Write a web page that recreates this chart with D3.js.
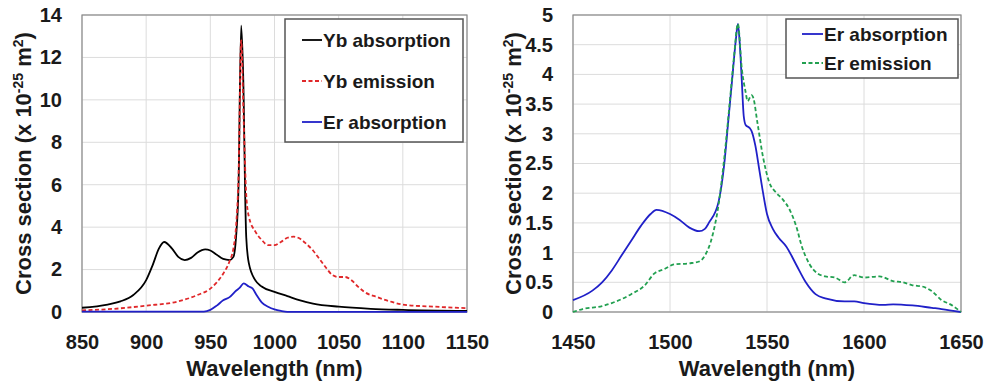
<!DOCTYPE html>
<html lang="en">
<head>
<meta charset="utf-8">
<title>Cross sections</title>
<style>
    body { margin: 0; background: #fff; }
    text { font-family: "Liberation Sans", Arial, sans-serif; font-weight: bold; fill: #1a1a1a; }
</style>
</head>
<body>
<svg id="chart" width="985" height="387"></svg>
<script src="https://cdn.jsdelivr.net/npm/d3@7"></script>
<script>
// left panel: Yb / Er near 980 nm
const ybAbsWl = [850, 870, 880, 890, 900, 905, 910, 914, 920, 925, 930, 935, 940, 946, 950, 955, 960, 965, 968, 970, 972, 974, 976, 977, 978, 980, 985, 990, 1000, 1010, 1020, 1030, 1050, 1075, 1100, 1150];
const ybAbs = [0.2, 0.35, 0.5, 0.8, 1.5, 2.2, 3.0, 3.3, 3.0, 2.6, 2.45, 2.55, 2.8, 2.95, 2.9, 2.7, 2.5, 2.45, 2.6, 3.5, 6, 13.5, 10, 6, 3.5, 2.3, 1.5, 1.2, 0.95, 0.75, 0.55, 0.4, 0.25, 0.15, 0.1, 0.05];
const ybEmWl = [850, 875, 900, 925, 940, 950, 955, 960, 965, 968, 970, 972, 974, 976, 978, 980, 985, 990, 995, 1000, 1005, 1010, 1015, 1020, 1025, 1030, 1035, 1040, 1045, 1050, 1055, 1060, 1065, 1070, 1080, 1090, 1100, 1125, 1150];
const ybEm = [0.08, 0.15, 0.3, 0.5, 0.8, 1.1, 1.4, 1.8, 2.4, 3.0, 4.0, 6.5, 12.8, 9, 5.5, 4.5, 3.8, 3.4, 3.15, 3.15, 3.3, 3.5, 3.55, 3.45, 3.2, 2.9, 2.5, 2.1, 1.75, 1.65, 1.65, 1.5, 1.2, 0.95, 0.7, 0.5, 0.35, 0.25, 0.18];
const erAbsLWl = [850, 945, 950, 955, 960, 965, 970, 973, 976, 980, 983, 986, 990, 995, 1000, 1005, 1010, 1150];
const erAbsL = [0.02, 0.02, 0.1, 0.3, 0.55, 0.7, 1.0, 1.15, 1.35, 1.2, 1.1, 0.8, 0.45, 0.25, 0.12, 0.05, 0.01, 0.01];

// right panel: Er near 1550 nm
const erAbsWl = [1450, 1460, 1465, 1470, 1475, 1480, 1485, 1490, 1493, 1500, 1505, 1510, 1515, 1518, 1520, 1525, 1528, 1530, 1532, 1534, 1535, 1536, 1537, 1538, 1539, 1541, 1542, 1544, 1546, 1548, 1550, 1553, 1556, 1560, 1565, 1570, 1575, 1580, 1590, 1595, 1600, 1610, 1615, 1625, 1635, 1640, 1650];
const erAbs = [0.2, 0.36, 0.5, 0.7, 0.95, 1.2, 1.45, 1.65, 1.72, 1.65, 1.55, 1.42, 1.36, 1.4, 1.5, 1.85, 2.5, 3.2, 3.9, 4.6, 4.85, 4.5, 3.9, 3.3, 3.15, 3.1, 3.05, 2.8, 2.4, 2.0, 1.65, 1.4, 1.25, 1.1, 0.8, 0.5, 0.3, 0.23, 0.18, 0.18, 0.15, 0.12, 0.13, 0.11, 0.07, 0.05, 0.0];
const erEmWl = [1450, 1455, 1465, 1470, 1480, 1487, 1492, 1497, 1502, 1510, 1515, 1518, 1522, 1525, 1528, 1531, 1533, 1535, 1537, 1539, 1540, 1542, 1543, 1545, 1548, 1551, 1555, 1558, 1562, 1565, 1568, 1572, 1576, 1580, 1585, 1590, 1595, 1600, 1608, 1615, 1620, 1625, 1630, 1635, 1640, 1645, 1650];
const erEm = [0.0, 0.05, 0.1, 0.15, 0.3, 0.45, 0.65, 0.72, 0.8, 0.82, 0.85, 0.95, 1.3, 1.8, 2.6, 3.6, 4.3, 4.85, 4.1, 3.7, 3.55, 3.65, 3.6, 3.2, 2.6, 2.2, 2.0, 1.9, 1.7, 1.45, 1.1, 0.8, 0.65, 0.6, 0.58, 0.5, 0.62, 0.58, 0.6, 0.52, 0.5, 0.45, 0.43, 0.35, 0.2, 0.12, 0.0];

const leftXTicks = [850, 900, 950, 1000, 1050, 1100, 1150];
const leftYTicks = [0, 2, 4, 6, 8, 10, 12, 14];
const rightXTicks = [1450, 1500, 1550, 1600, 1650];
const rightYTicks = [0, 0.5, 1, 1.5, 2, 2.5, 3, 3.5, 4, 4.5, 5];

const svg = d3.select("#chart");

function zip(xs, ys) { return xs.map((x, i) => [x, ys[i]]); }

function panel(opt) {
    const g = svg.append("g");
    const x = d3.scaleLinear().domain(opt.xDomain).range([opt.left, opt.right]);
    const y = d3.scaleLinear().domain(opt.yDomain).range([opt.bottom, opt.top]);

    // grid
    g.append("g").selectAll("line").data(opt.xTicks).join("line")
        .attr("x1", d => x(d)).attr("x2", d => x(d))
        .attr("y1", opt.top).attr("y2", opt.bottom)
        .attr("stroke", "#dcdcdc").attr("stroke-width", 1);
    g.append("g").selectAll("line").data(opt.yTicks).join("line")
        .attr("x1", opt.left).attr("x2", opt.right)
        .attr("y1", d => y(d)).attr("y2", d => y(d))
        .attr("stroke", "#dcdcdc").attr("stroke-width", 1);

    // plot frame
    g.append("rect")
        .attr("x", opt.left).attr("y", opt.top)
        .attr("width", opt.right - opt.left).attr("height", opt.bottom - opt.top)
        .attr("fill", "none").attr("stroke", "#8a8a8a").attr("stroke-width", 1.2);

    // axes (labels only)
    const xa = g.append("g").attr("transform", "translate(0," + opt.bottom + ")")
        .call(d3.axisBottom(x).tickValues(opt.xTicks).tickSize(0).tickPadding(23).tickFormat(d3.format("d")));
    const ya = g.append("g").attr("transform", "translate(" + opt.left + ",0)")
        .call(d3.axisLeft(y).tickValues(opt.yTicks).tickSize(0).tickPadding(20).tickFormat(d => String(d)));
    [xa, ya].forEach(a => {
        a.select(".domain").remove();
        a.selectAll("text").attr("font-size", 20).attr("font-family", null).attr("fill", "#1a1a1a");
    });

    const line = d3.line().x(d => x(d[0])).y(d => y(d[1])).curve(d3.curveMonotoneX);
    opt.series.forEach(s => {
        g.append("path").datum(zip(s.xs, s.ys))
            .attr("d", line).attr("fill", "none")
            .attr("stroke", s.color).attr("stroke-width", 1.8)
            .attr("stroke-dasharray", s.dash || null);
    });

    // axis titles
    g.append("text")
        .attr("x", (opt.left + opt.right) / 2).attr("y", 376)
        .attr("text-anchor", "middle").attr("font-size", 22)
        .text("Wavelength (nm)");
    const yt = g.append("text")
        .attr("transform", "translate(" + opt.yTitleX + "," + ((opt.top + opt.bottom) / 2) + ") rotate(-90)")
        .attr("text-anchor", "middle").attr("font-size", 22);
    yt.append("tspan").text("Cross section (x 10");
    yt.append("tspan").attr("font-size", 14).attr("dy", -8).text("-25");
    yt.append("tspan").attr("dy", 8).text(" m");
    yt.append("tspan").attr("font-size", 14).attr("dy", -8).text("2");
    yt.append("tspan").attr("dy", 8).text(")");

    // legend
    const L = opt.legend;
    g.append("rect").attr("x", L.x).attr("y", L.y).attr("width", L.w).attr("height", L.h)
        .attr("fill", "#fff").attr("stroke", "#555").attr("stroke-width", 1.5);
    opt.series.forEach((s, i) => {
        const yy = L.y + L.first + i * L.step;
        g.append("line").attr("x1", L.x + L.lx0).attr("x2", L.x + L.lx1)
            .attr("y1", yy).attr("y2", yy)
            .attr("stroke", s.color).attr("stroke-width", 1.8)
            .attr("stroke-dasharray", s.dash || null);
        g.append("text").attr("x", L.x + L.lx1 + 1).attr("y", yy).attr("dy", "0.35em")
            .attr("font-size", 19).text(s.name);
    });
}

panel({
    left: 82, right: 467, top: 15, bottom: 312, yTitleX: 31,
    xDomain: [850, 1150], yDomain: [0, 14],
    xTicks: leftXTicks, yTicks: leftYTicks,
    series: [
        {name: "Yb absorption", xs: ybAbsWl, ys: ybAbs, color: "#000000"},
        {name: "Yb emission", xs: ybEmWl, ys: ybEm, color: "#e0282a", dash: "4,2.5"},
        {name: "Er absorption", xs: erAbsLWl, ys: erAbsL, color: "#2020c8"}
    ],
    legend: {x: 285, y: 19, w: 178, h: 123, first: 21, step: 41, lx0: 17, lx1: 37}
});

panel({
    left: 573, right: 961, top: 15, bottom: 312, yTitleX: 521,
    xDomain: [1450, 1650], yDomain: [0, 5],
    xTicks: rightXTicks, yTicks: rightYTicks,
    series: [
        {name: "Er absorption", xs: erAbsWl, ys: erAbs, color: "#2020c8"},
        {name: "Er emission", xs: erEmWl, ys: erEm, color: "#22a050", dash: "4,2.5"}
    ],
    legend: {x: 786, y: 19, w: 172, h: 59, first: 15, step: 29, lx0: 16, lx1: 37}
});
</script>
</body>
</html>
